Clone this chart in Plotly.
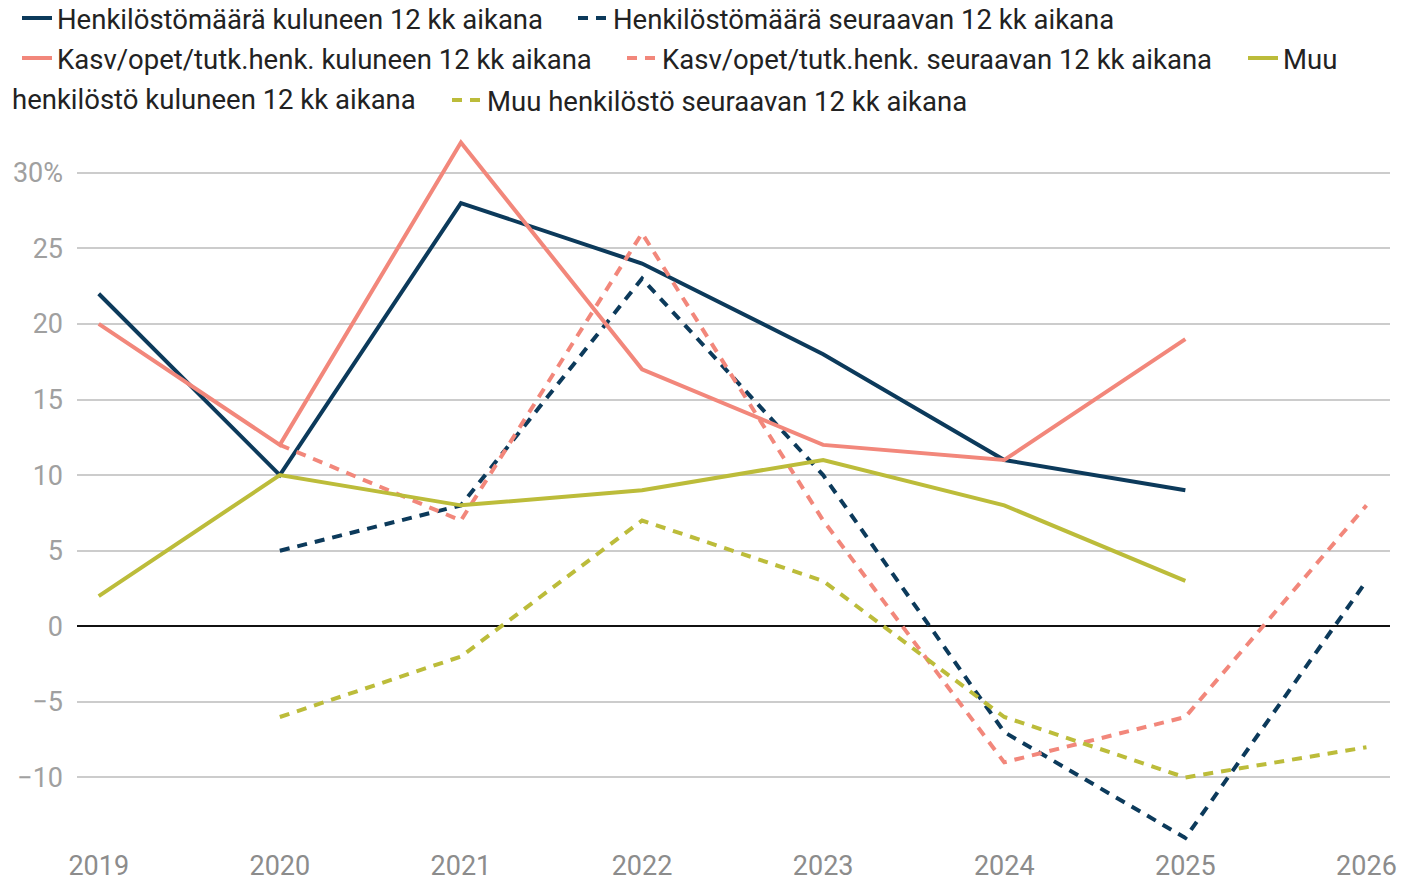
import plotly.graph_objects as go

years = [2019, 2020, 2021, 2022, 2023, 2024, 2025, 2026]

henk_kul = [22, 10, 28, 24, 18, 11, 9, None]
henk_seur = [None, 5, 8, 23, 10, -7, -14, 3]
kasv_kul = [20, 12, 32, 17, 12, 11, 19, None]
kasv_seur = [None, 12, 7, 26, 7, -9, -6, 8]
muu_kul = [2, 10, 8, 9, 11, 8, 3, None]
muu_seur = [None, -6, -2, 7, 3, -6, -10, -8]

names = [
    "Henkilöstömäärä kuluneen 12 kk aikana",
    "Henkilöstömäärä seuraavan 12 kk aikana",
    "Kasv/opet/tutk.henk. kuluneen 12 kk aikana",
    "Kasv/opet/tutk.henk. seuraavan 12 kk aikana",
    "Muu",
    "Muu henkilöstö seuraavan 12 kk aikana",
]
muu_kul_rest = "henkilöstö kuluneen 12 kk aikana"

y_ticks = [-10, -5, 0, 5, 10, 15, 20, 25, 30]
y_ticktext = ["\u221210", "\u22125", "0", "5", "10", "15", "20", "25", "30%"]

NAVY = "#0c3a5b"
SALMON = "#f2877b"
OLIVE = "#bcbc3a"

series = [
    (henk_kul, NAVY, "solid"),
    (henk_seur, NAVY, "dash"),
    (kasv_kul, SALMON, "solid"),
    (kasv_seur, SALMON, "dash"),
    (muu_kul, OLIVE, "solid"),
    (muu_seur, OLIVE, "dash"),
]

W, H = 1404, 881
LEG_FONT = 27.5
# legend entry placement: (text left x, row centre y) in pixels
leg_pos = [(57, 18), (613, 18), (57, 58), (662, 58), (1283, 58), (487, 100)]
leg_ids = ["legend", "legend2", "legend3", "legend4", "legend5", "legend6"]

fig = go.Figure()
for (vals, col, dash), name, lid in zip(series, names, leg_ids):
    fig.add_trace(go.Scatter(
        x=years, y=vals, name=name, mode="lines",
        line=dict(color=col, width=4, dash="10px,8px" if dash == "dash" else "solid"),
        connectgaps=False, legend=lid,
    ))

legends = {}
for lid, (tx, ry) in zip(leg_ids, leg_pos):
    legends[lid] = dict(
        orientation="h", x=(tx - 40) / W, xanchor="left",
        y=1 - ry / H, yanchor="middle",
        xref="container", yref="container",
        font=dict(size=LEG_FONT, color="#222222", family="Roboto"),
        bgcolor="rgba(0,0,0,0)", borderwidth=0,
    )

fig.update_layout(
    width=W, height=H,
    paper_bgcolor="white", plot_bgcolor="white",
    margin=dict(l=77, r=14, t=135, b=34, autoexpand=False),
    font=dict(family="Roboto", color="#222222"),
    showlegend=True,
    **legends,
    xaxis=dict(
        range=[2018.88, 2026.13],
        tickvals=years, ticktext=[str(y) for y in years],
        showgrid=False, zeroline=False, showline=False,
        tickfont=dict(size=27, color="#8c8c8c"),
        ticks="", fixedrange=True, automargin=False,
    ),
    yaxis=dict(
        range=[-14.6, 32.5],
        tickvals=y_ticks, ticktext=y_ticktext,
        showgrid=True, gridcolor="#cccccc", gridwidth=2,
        zeroline=True, zerolinecolor="#111111", zerolinewidth=2,
        showline=False,
        tickfont=dict(size=27, color="#a0a0a0"),
        ticks="", ticklabelstandoff=13, automargin=False,
    ),
    annotations=[dict(
        text=muu_kul_rest, xref="paper", yref="paper",
        x=(10 - 77) / (W - 77 - 14), xanchor="left",
        y=1 + (135 - 100) / (H - 135 - 34), yanchor="middle",
        showarrow=False, font=dict(size=LEG_FONT, color="#222222", family="Roboto"),
    )],
)

fig.write_html(
    "out.html",
    config={"displayModeBar": False},
    post_script="document.body.style.margin='0';",
)
